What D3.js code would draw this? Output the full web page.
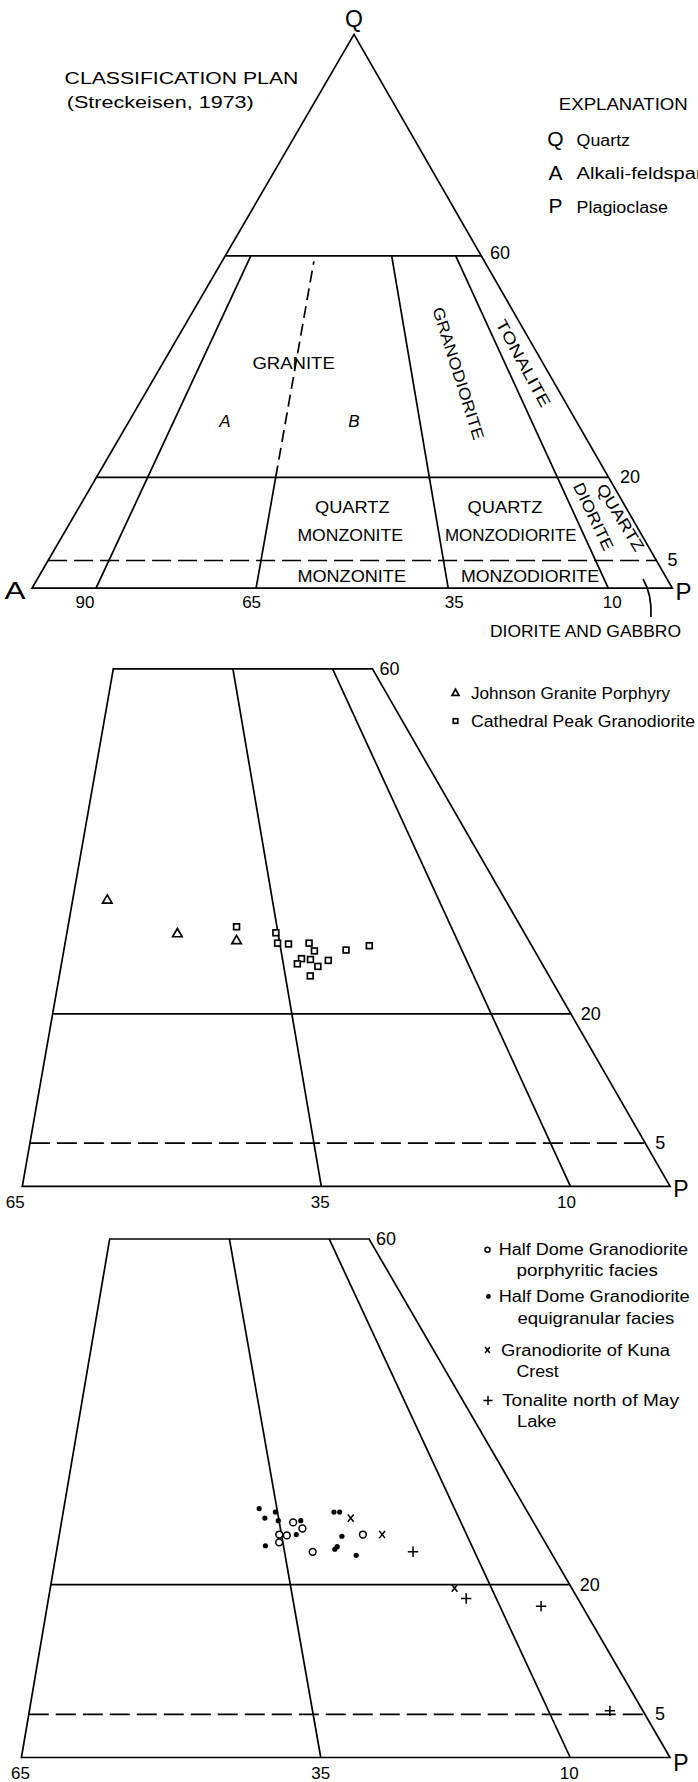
<!DOCTYPE html>
<html><head><meta charset="utf-8">
<script src="https://cdn.jsdelivr.net/npm/d3@7"></script>
<style>
body{margin:0;background:#fff}
svg{display:block;background:#fff}
text{font-family:"Liberation Sans",Arial,sans-serif;fill:#000}
</style>
</head><body>
<svg id="chart" width="698" height="1782"></svg>
<script>
// ---------------- DATA ----------------
// Streckeisen (1973) boundaries
const quartzLevels = [60, 20, 5];                 // Q (%)
const plagBoundaries = [10, 35, 65, 90];          // 100*P/(A+P)
const alkaliTickLabels = ["90", "65", "35", "10"]; // 100*A/(A+P) at those boundaries
const zoomPlagBoundaries = [35, 65, 90];
const zoomTickLabels = ["65", "35", "10"];

// samples: [Q %, 100*P/(A+P)]
const johnsonGranitePorphyry = [[33.2, 40.2], [29.3, 50.7], [28.5, 59.0]];
const cathedralPeakGranodiorite = [
  [30.1, 59.2], [29.4, 64.7], [28.2, 64.7], [28.1, 66.2], [28.2, 69.1], [27.3, 69.6], [27.4, 74.0],
  [27.9, 77.4], [26.4, 67.6], [26.3, 68.8], [26.2, 71.2], [25.8, 66.9], [25.5, 69.6], [24.4, 68.3]];
const halfDomePorphyritic = [
  [27.2, 66.9], [26.5, 68.0], [25.8, 64.7], [25.7, 65.7], [24.9, 64.5], [23.8, 68.7], [25.8, 76.0]];
const halfDomeEquigranular = [
  [28.8, 62.5], [28.4, 64.7], [27.7, 63.1], [27.4, 64.9], [27.4, 68.0], [25.8, 67.0], [24.5, 62.6],
  [28.4, 72.9], [28.4, 73.7], [25.6, 73.1], [24.1, 71.7], [24.4, 72.1], [23.4, 74.3]];
const kunaCrest = [[27.7, 75.0], [25.8, 78.6], [19.6, 85.4]];
const tonaliteMayLake = [[23.8, 81.9], [18.4, 86.3], [17.5, 95.0], [5.4, 96.5]];

// ---------------- LAYOUT ----------------
const svg = d3.select("#chart");
const SW = 1.7;

function ternary(cfg) {
  const fx = d3.scaleLinear().domain([0, 100]).range([cfg.ax, cfg.px]);
  const qy = d3.scaleLinear().domain([0, 100]).range([cfg.baseY, cfg.qy]);
  return (q, f) => { const t = q / 100; return [(1 - t) * fx(f) + t * cfg.qx, qy(q)]; };
}
const line = d3.line();

function seg(g, proj, a, b, dash) {
  const p = g.append("path").attr("d", line([proj(a[0], a[1]), proj(b[0], b[1])]))
    .attr("fill", "none").attr("stroke", "#000").attr("stroke-width", SW);
  if (dash) p.attr("stroke-dasharray", dash);
  return p;
}

function label(g, o) {
  const t = g.append("text").attr("x", o.x).attr("y", o.y).text(o.t)
    .attr("font-size", o.size || 16).attr("dominant-baseline", "central")
    .attr("text-anchor", o.anchor || "middle");
  if (o.w) t.attr("textLength", o.w).attr("lengthAdjust", "spacingAndGlyphs");
  if (o.rot) t.attr("transform", `rotate(${o.rot},${o.x},${o.y})`);
  if (o.italic) t.attr("font-style", "italic");
  return t;
}

// marker painters
const markers = {
  triangle(g, x, y, s) {
    const h = s * 0.866;
    g.append("path").attr("d", `M${x},${y - h * 0.62}L${x - s / 2},${y + h * 0.38}L${x + s / 2},${y + h * 0.38}Z`)
      .attr("fill", "#fff").attr("stroke", "#000").attr("stroke-width", 1.7).attr("stroke-linejoin", "miter");
  },
  square(g, x, y, s) {
    g.append("rect").attr("x", x - s / 2).attr("y", y - s / 2).attr("width", s).attr("height", s)
      .attr("fill", "#fff").attr("stroke", "#000").attr("stroke-width", 1.7);
  },
  circle(g, x, y, s) {
    g.append("circle").attr("cx", x).attr("cy", y).attr("r", s)
      .attr("fill", "#fff").attr("stroke", "#000").attr("stroke-width", 1.5);
  },
  dot(g, x, y, s) {
    g.append("circle").attr("cx", x).attr("cy", y).attr("r", s).attr("fill", "#000");
  },
  cross(g, x, y, s) {
    g.append("path").attr("d", `M${x - s * 0.8},${y - s}L${x + s * 0.8},${y + s}M${x + s * 0.8},${y - s}L${x - s * 0.8},${y + s}`)
      .attr("stroke", "#000").attr("stroke-width", 1.5).attr("fill", "none");
  },
  plus(g, x, y, s) {
    g.append("path").attr("d", `M${x - s},${y}L${x + s},${y}M${x},${y - s}L${x},${y + s}`)
      .attr("stroke", "#000").attr("stroke-width", 1.5).attr("fill", "none");
  }
};

// ---------------- PANEL 1: full QAP triangle ----------------
{
  const g = svg.append("g");
  const cfg = { ax: 32, px: 672.3, baseY: 588.2, qx: 354, qy: 34.4 };
  const T = ternary(cfg);
  g.append("path").attr("d", line([T(0, 0), T(0, 100), T(100, 0)]) + "Z")
    .attr("fill", "none").attr("stroke", "#000").attr("stroke-width", SW).attr("stroke-linejoin", "miter");
  quartzLevels.forEach(q => seg(g, T, [q, 0], [q, 100], q === 5 ? "19,7" : null));
  plagBoundaries.forEach(f => {
    if (f === 35) {
      seg(g, T, [0, f], [20, f]);
      seg(g, T, [20, f], [59, f], "12,6");
    } else {
      seg(g, T, [0, f], [60, f]);
    }
  });
  // base tick labels (small hand-lettering offsets)
  const tickDx = [-11, -4.5, 6, 4];
  plagBoundaries.forEach((f, i) => {
    const [x] = T(0, f);
    label(g, { t: alkaliTickLabels[i], x: x + tickDx[i], y: 602, size: 17 });
  });
  const qlab = [{ q: 60, x: 500, y: 253 }, { q: 20, x: 630, y: 477 }, { q: 5, x: 672.5, y: 560 }];
  qlab.forEach(d => label(g, { t: String(d.q), x: d.x, y: d.y, size: 18 }));
  label(g, { t: "Q", x: 354, y: 19, size: 23 });
  label(g, { t: "A", x: 15, y: 590, size: 24, w: 21 });
  label(g, { t: "P", x: 683.5, y: 591, size: 24 });
  label(g, { t: "CLASSIFICATION PLAN", x: 64.6, y: 78, size: 16, w: 233.7, anchor: "start" });
  label(g, { t: "(Streckeisen, 1973)", x: 66.8, y: 102.6, size: 16, w: 187, anchor: "start" });
  label(g, { t: "EXPLANATION", x: 558.8, y: 104, size: 16, w: 129, anchor: "start" });
  [["Q", "Quartz", 138.5, 53.4], ["A", "Alkali-feldspar", 172, 126], ["P", "Plagioclase", 205.5, 91.4]].forEach(d => {
    label(g, { t: d[0], x: 555.5, y: d[2], size: 21 });
    label(g, { t: d[1], x: 576.6, y: d[2] + 1.5, size: 16, w: d[3], anchor: "start" });
  });
  const fields = [
    { t: "GRANITE", x: 293.6, y: 363.6, w: 82.4 },
    { t: "A", x: 225, y: 421, italic: true, size: 17 },
    { t: "B", x: 354, y: 421, italic: true, size: 17 },
    { t: "QUARTZ", x: 352.3, y: 507, w: 74.6 },
    { t: "MONZONITE", x: 350.2, y: 535.8, w: 105.6 },
    { t: "QUARTZ", x: 505, y: 507, w: 74.8 },
    { t: "MONZODIORITE", x: 510.8, y: 535.8, w: 131.6 },
    { t: "MONZONITE", x: 351.7, y: 576.5, w: 108.6 },
    { t: "MONZODIORITE", x: 530, y: 576.5, w: 138 },
    { t: "GRANODIORITE", x: 458.3, y: 373.3, w: 138, rot: 72.5 },
    { t: "TONALITE", x: 523.3, y: 363.3, w: 97, rot: 61.4 },
    { t: "QUARTZ", x: 620.5, y: 517.5, w: 76, rot: 58.5 },
    { t: "DIORITE", x: 593.5, y: 516.5, w: 73, rot: 64.5 },
    { t: "DIORITE AND GABBRO", x: 585.5, y: 631.4, w: 191 }
  ];
  fields.forEach(d => label(g, d));
  g.append("path").attr("d", "M643,579 Q652,594 651,617").attr("fill", "none")
    .attr("stroke", "#000").attr("stroke-width", SW);
}

// ---------------- Zoomed panels ----------------
function zoomPanel(cfg, series, legend) {
  const g = svg.append("g");
  const T = ternary(cfg);
  const fL = zoomPlagBoundaries[0];
  g.append("path").attr("d", line([T(0, fL), T(0, 100), T(60, 100), T(60, fL)]) + "Z")
    .attr("fill", "none").attr("stroke", "#000").attr("stroke-width", SW).attr("stroke-linejoin", "miter");
  quartzLevels.filter(q => q < 60).forEach(q => seg(g, T, [q, fL], [q, 100], q === 5 ? "20,7" : null));
  zoomPlagBoundaries.slice(1).forEach(f => seg(g, T, [0, f], [60, f]));
  zoomPlagBoundaries.forEach((f, i) => {
    const [x] = T(0, f);
    label(g, { t: zoomTickLabels[i], x: x + cfg.tickDx[i], y: cfg.baseY + 16, size: 17 });
  });
  quartzLevels.forEach(q => {
    const [x, y] = T(q, 100);
    label(g, { t: String(q), x: x + (q === 5 ? 13 : 18) + (q === 60 ? -1 : 2), y: y, size: 18 });
  });
  label(g, { t: "P", x: 681, y: cfg.baseY + cfg.pdy, size: 23 });
  series.forEach(s => s.data.forEach(d => {
    const [x, y] = T(d[0], d[1]);
    markers[s.type](g, x, y, s.size);
  }));
  legend.forEach(l => {
    if (l.type) markers[l.type](g, l.mx, l.y, l.size);
    label(g, { t: l.t, x: l.x, y: l.y + (l.dy || 0), size: 16, w: l.w, anchor: "start" });
  });
}

zoomPanel(
  { ax: -326.5, px: 670.1, baseY: 1186.3, qx: 174, qy: 324, pdy: 3, tickDx: [-7, -1, -4] },
  [
    { data: johnsonGranitePorphyry, type: "triangle", size: 9.5 },
    { data: cathedralPeakGranodiorite, type: "square", size: 5.8 }
  ],
  [
    { type: "triangle", size: 7, mx: 455.5, y: 693, t: "Johnson Granite Porphyry", x: 471, w: 199 },
    { type: "square", size: 4.5, mx: 455.5, y: 721, t: "Cathedral Peak Granodiorite", x: 471, w: 224 }
  ]
);

zoomPanel(
  { ax: -327.8, px: 670, baseY: 1757.5, qx: 168.5, qy: 893.3, pdy: 5, tickDx: [-1, 0, -1] },
  [
    { data: halfDomePorphyritic, type: "circle", size: 3.4 },
    { data: halfDomeEquigranular, type: "dot", size: 2.6 },
    { data: kunaCrest, type: "cross", size: 3.6 },
    { data: tonaliteMayLake, type: "plus", size: 5.2 }
  ],
  [
    { type: "circle", size: 2.5, mx: 487.5, y: 1249.8, t: "Half Dome Granodiorite", x: 498.7, w: 189.3 },
    { t: "porphyritic facies", x: 516.5, y: 1270.5, w: 141.5 },
    { type: "dot", size: 2.4, mx: 488.4, y: 1296.5, t: "Half Dome Granodiorite", x: 498.7, w: 191 },
    { t: "equigranular facies", x: 517.4, y: 1318, w: 157 },
    { type: "cross", size: 3, mx: 487.5, y: 1350, t: "Granodiorite of Kuna", x: 501, w: 169 },
    { t: "Crest", x: 516.5, y: 1371, w: 42.3 },
    { type: "plus", size: 4.6, mx: 488, y: 1400.5, t: "Tonalite north of May", x: 502, w: 177 },
    { t: "Lake", x: 517, y: 1421.5, w: 39.5 }
  ]
);
</script>
</body></html>
